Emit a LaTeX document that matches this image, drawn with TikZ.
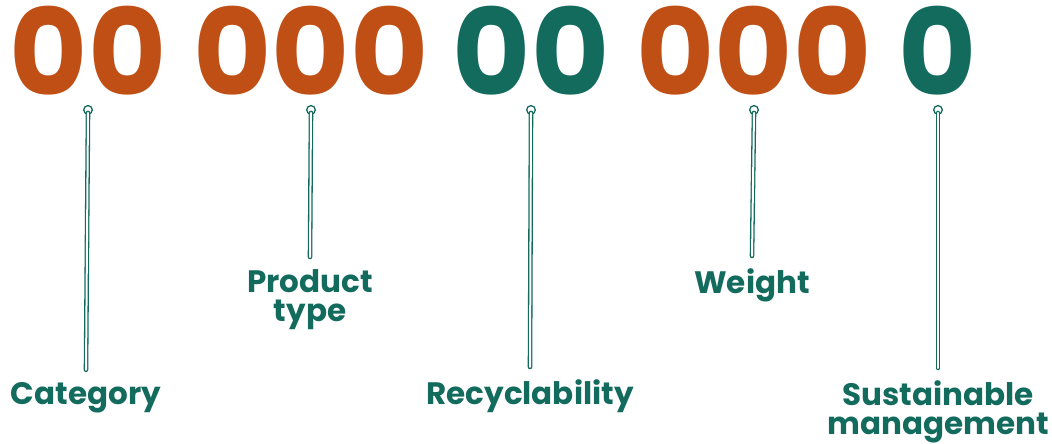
\documentclass[tikz,border=0pt]{standalone}
\usepackage{fontspec}
\setmainfont{Poppins}
\usepackage{tikz}

\definecolor{rust}{RGB}{192,79,21}
\definecolor{pine}{RGB}{19,107,94}

\begin{document}
\begin{tikzpicture}[x=1pt,y=-1pt,
digits/.style={inner sep=0pt,font=\bfseries\fontsize{120}{120}\selectfont},
tag/.style={inner sep=0pt,align=center,text=pine,font=\bfseries\fontsize{31}{29}\selectfont},
pin/.style={draw=pine,line width=1.3pt,fill=white},
stick/.style={draw=pine,line width=1.3pt,double=white,double distance=2pt,line cap=round}]

\useasboundingbox (0,0) rectangle (1052,444);

% Code groups
\node[digits,text=rust] (cat) at (88,51) {00};
\node[digits,text=rust] (type) at (311,51) {000};
\node[digits,text=pine] (recy) at (531,51) {00};
\node[digits,text=rust] (wght) at (754,51) {000};
\node[digits,text=pine] (sust) at (938,51) {0};

% Labels
\node[tag,anchor=base] (catlbl) at (86,404) {Category};
\node[tag,anchor=north] (typelbl) at (310,269) {Product\\type};
\node[tag,anchor=base] (recylbl) at (530,404) {Recyclability};
\node[tag,anchor=base] (wghtlbl) at (752,293) {Weight};
\node[tag,anchor=north] (sustlbl) at (938,380) {Sustainable\\management};

% Pins
\foreach \grp/\lbl in {cat/catlbl,type/typelbl,recy/recylbl,wght/wghtlbl,sust/sustlbl}{
	\coordinate (\grp pin) at ([yshift=-14pt]\grp.south);
	\draw[pin] (\grp pin) circle (4.3pt);
	\draw[stick] ([yshift=-3pt]\grp pin) -- ([yshift=12pt]\lbl.north);
}

\end{tikzpicture}
\end{document}
